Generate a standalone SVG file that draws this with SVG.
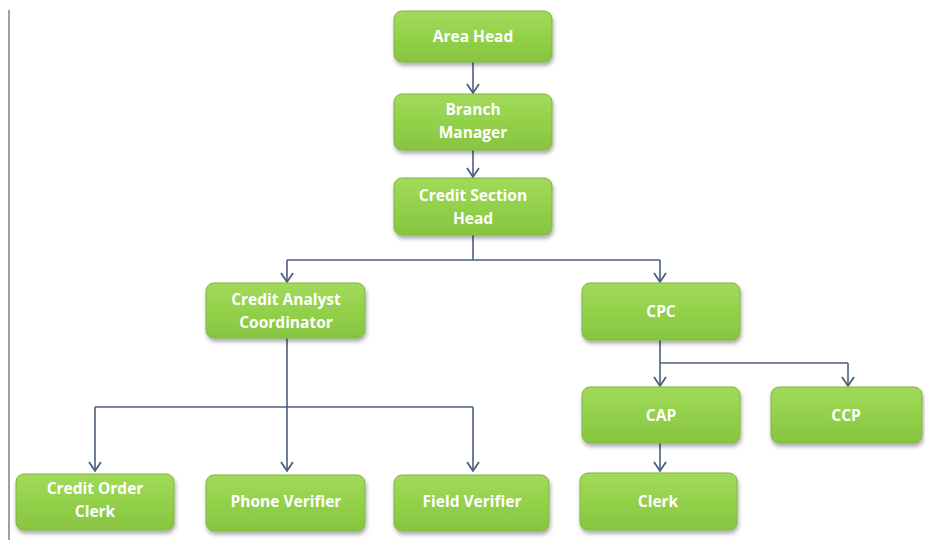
<svg xmlns="http://www.w3.org/2000/svg" width="925" height="540" viewBox="0 0 925 540">
<defs>
<linearGradient id="g" x1="0" y1="0" x2="0" y2="1">
<stop offset="0" stop-color="#a2da5a"/>
<stop offset="0.5" stop-color="#93d14b"/>
<stop offset="1" stop-color="#87c440"/>
</linearGradient>
<filter id="sh" x="-10%" y="-10%" width="120%" height="135%">
<feGaussianBlur in="SourceAlpha" stdDeviation="2"/>
<feOffset dx="1" dy="3" result="b"/>
<feComponentTransfer><feFuncA type="linear" slope="0.35"/></feComponentTransfer>
<feMerge><feMergeNode/><feMergeNode in="SourceGraphic"/></feMerge>
</filter>
<marker id="ah" markerWidth="12" markerHeight="14" refX="10" refY="7" orient="auto" markerUnits="userSpaceOnUse" viewBox="0 0 12 14">
<path d="M1,1 L10,7 L1,13" fill="none" stroke="#4a5f7e" stroke-width="1.8"/>
</marker>
</defs>
<style>
.box{fill:url(#g);stroke:#7fb83c;stroke-width:1;filter:url(#sh)}
.t{font-family:"Open Sans","Liberation Sans",sans-serif;font-weight:bold;font-size:15.5px;fill:#ffffff;text-anchor:middle}
.c{fill:none;stroke:#4a5f7e;stroke-width:1.6}
</style>
<rect width="925" height="540" fill="#ffffff"/>
<line x1="9" y1="10" x2="9" y2="540" stroke="#808080" stroke-width="1.5"/>
<g id="connectors">
<path class="c" d="M473,62 V93" marker-end="url(#ah)"/>
<path class="c" d="M473,150 V177" marker-end="url(#ah)"/>
<path class="c" d="M473,235 V260"/>
<path class="c" d="M287,260 H660"/>
<path class="c" d="M287,260 V282" marker-end="url(#ah)"/>
<path class="c" d="M660,260 V282" marker-end="url(#ah)"/>
<path class="c" d="M287,338 V471" marker-end="url(#ah)"/>
<path class="c" d="M95,407 H473"/>
<path class="c" d="M95,407 V471" marker-end="url(#ah)"/>
<path class="c" d="M473,407 V471" marker-end="url(#ah)"/>
<path class="c" d="M660,340 V386" marker-end="url(#ah)"/>
<path class="c" d="M660,363 H848"/>
<path class="c" d="M848,363 V386" marker-end="url(#ah)"/>
<path class="c" d="M660,443 V471" marker-end="url(#ah)"/>
</g>
<g id="area-head"><rect class="box" x="394" y="11" width="158" height="51" rx="8"/><text class="t" x="473" y="42">Area Head</text></g>
<g id="branch-manager"><rect class="box" x="394" y="94" width="158" height="56" rx="8"/><text class="t" x="473" y="115">Branch</text><text class="t" x="473" y="138">Manager</text></g>
<g id="credit-section-head"><rect class="box" x="394" y="178" width="158" height="57" rx="8"/><text class="t" x="473" y="201">Credit Section</text><text class="t" x="473" y="224">Head</text></g>
<g id="credit-analyst-coordinator"><rect class="box" x="206" y="283" width="159" height="55" rx="8"/><text class="t" x="286" y="305">Credit Analyst</text><text class="t" x="286" y="328">Coordinator</text></g>
<g id="cpc"><rect class="box" x="582" y="283" width="158" height="57" rx="8"/><text class="t" x="661" y="317">CPC</text></g>
<g id="cap"><rect class="box" x="582" y="387" width="158" height="56" rx="8"/><text class="t" x="661" y="421">CAP</text></g>
<g id="ccp"><rect class="box" x="771" y="387" width="151" height="56" rx="8"/><text class="t" x="846" y="421">CCP</text></g>
<g id="clerk"><rect class="box" x="580" y="473" width="157" height="57" rx="8"/><text class="t" x="658" y="507">Clerk</text></g>
<g id="credit-order-clerk"><rect class="box" x="16" y="474" width="158" height="56" rx="8"/><text class="t" x="95" y="494">Credit Order</text><text class="t" x="95" y="517">Clerk</text></g>
<g id="phone-verifier"><rect class="box" x="206" y="475" width="159" height="56" rx="8"/><text class="t" x="286" y="507">Phone Verifier</text></g>
<g id="field-verifier"><rect class="box" x="394" y="475" width="155" height="56" rx="8"/><text class="t" x="472" y="507">Field Verifier</text></g>
</svg>
